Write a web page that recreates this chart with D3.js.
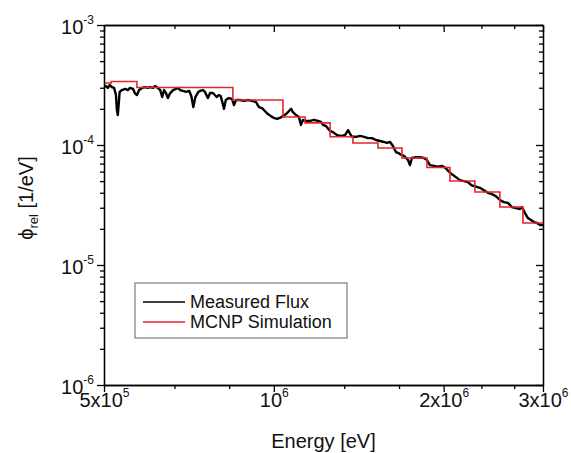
<!DOCTYPE html>
<html>
<head>
<meta charset="utf-8">
<script src="https://cdn.jsdelivr.net/npm/d3@7"></script>
<style>
  body { margin: 0; background: #fff; }
  svg { display: block; font-family: 'Liberation Sans', Arial, sans-serif; }
</style>
</head>
<body>
<svg></svg>
<script>
// Set variables

let width = 571
let height = 453
let plotLeft = 104
let plotRight = 543
let plotTop = 25
let plotBottom = 385

// measured flux: energy in keV, flux in units of 1e-4 1/eV
let measuredEnergy = [500, 504, 508, 512, 516.5, 521, 525, 527, 529, 531,
  533, 538, 545, 551, 556, 563, 567, 572, 577, 584,
  591, 598, 603, 611, 616, 623, 629, 634, 639, 644,
  649, 655, 663, 671, 677, 682, 690, 699, 708, 714,
  720, 726, 735, 740, 749, 755, 764, 771, 780, 786,
  792, 799, 805, 812, 816, 822, 832, 843, 850, 857,
  871, 885, 900, 915, 930, 941, 953, 964, 976, 988,
  1000, 1013, 1025, 1038, 1051, 1064, 1073, 1081, 1094, 1108,
  1117, 1126, 1140, 1159, 1178, 1197, 1212, 1222, 1237, 1258,
  1273, 1294, 1315, 1337, 1354, 1365, 1376, 1399, 1422, 1445,
  1469, 1493, 1517, 1542, 1567, 1586, 1607, 1626, 1647, 1660,
  1680, 1701, 1715, 1729, 1743, 1757, 1786, 1815, 1845, 1868,
  1891, 1922, 1954, 1986, 2018, 2043, 2069, 2103, 2137, 2172,
  2208, 2244, 2281, 2319, 2357, 2396, 2435, 2475, 2516, 2557,
  2599, 2643, 2686, 2731, 2753, 2787, 2821, 2856, 2891, 2927,
  2964, 3000]

let measuredFlux = [3.04, 3.10, 2.99, 3.16, 3.04, 2.99, 2.61, 1.96, 1.78, 2.20,
  2.77, 2.87, 2.93, 2.87, 2.99, 2.93, 2.71, 2.61, 2.87, 2.99,
  3.04, 2.99, 3.04, 2.99, 3.10, 2.99, 2.87, 2.51, 2.87, 2.71,
  2.46, 2.71, 2.87, 2.93, 2.99, 2.87, 2.82, 2.77, 2.82, 2.56,
  2.07, 2.51, 2.77, 2.82, 2.87, 2.77, 2.46, 2.71, 2.71, 2.61,
  2.51, 2.61, 2.56, 2.20, 2.00, 2.37, 2.46, 2.42, 2.15, 2.37,
  2.37, 2.33, 2.37, 2.33, 2.28, 2.07, 2.03, 1.92, 1.81, 1.74,
  1.68, 1.65, 1.68, 1.74, 1.81, 1.92, 2.00, 1.88, 1.78, 1.71,
  1.47, 1.62, 1.59, 1.59, 1.62, 1.59, 1.56, 1.47, 1.44, 1.31,
  1.28, 1.21, 1.19, 1.21, 1.33, 1.24, 1.17, 1.17, 1.19, 1.17,
  1.14, 1.14, 1.10, 1.08, 1.06, 1.04, 1.06, 0.98, 0.87, 0.86,
  0.83, 0.81, 0.78, 0.75, 0.68, 0.78, 0.79, 0.79, 0.78, 0.75,
  0.68, 0.67, 0.66, 0.67, 0.64, 0.60, 0.57, 0.54, 0.51, 0.50,
  0.49, 0.46, 0.45, 0.44, 0.42, 0.40, 0.39, 0.375, 0.348, 0.334,
  0.329, 0.304, 0.298, 0.293, 0.304, 0.271, 0.246, 0.237, 0.228, 0.224,
  0.215, 0.215]

// MCNP histogram: bin edges in keV, bin flux in units of 1e-4 1/eV
let mcnpEdges = [500, 515, 572, 846, 1038, 1136, 1258, 1381, 1530, 1687, 1868, 2052, 2272, 2516, 2764, 3000]
let mcnpFlux = [3.29, 3.38, 3.01, 2.37, 1.71, 1.53, 1.17, 1.04, 0.944, 0.779, 0.649, 0.501, 0.406, 0.304, 0.224]

// ticks
let xTickValues = [5e5, 1e6, 2e6, 3e6]
let xTickLabels = [['5x10', '5'], ['10', '6'], ['2x10', '6'], ['3x10', '6']]
let xMinorValues = [6.667e5, 8.333e5, 1.333e6, 1.667e6, 2.333e6, 2.667e6]
let yTickValues = [1e-6, 1e-5, 1e-4, 1e-3]
let yTickLabels = [['10', '-6'], ['10', '-5'], ['10', '-4'], ['10', '-3']]
let yMinorSteps = [2, 3, 4, 5, 6, 7, 8, 9]
let yMinorValues = [1e-6, 1e-5, 1e-4].flatMap(d => yMinorSteps.map(s => s * d))

let seriesNames = ['Measured Flux', 'MCNP Simulation']
let seriesColors = ['#000000', '#e3262b']

let svg = d3.select('svg')

let xScale
let yScale

// Draw canvas

let drawCanvas = () => {
  svg.attr('width', width)
  svg.attr('height', height)
  svg.append('defs').append('clipPath')
    .attr('id', 'plot-clip')
    .append('rect')
    .attr('x', plotLeft)
    .attr('y', plotTop)
    .attr('width', plotRight - plotLeft)
    .attr('height', plotBottom - plotTop)
}

// Generate scales

let generateScales = () => {
  xScale = d3.scaleLog()
    .domain([5e5, 3e6])
    .range([plotLeft, plotRight])
  yScale = d3.scaleLog()
    .domain([1e-6, 1e-3])
    .range([plotBottom, plotTop])
}

// Draw lines

let drawLines = () => {
  let measured = measuredEnergy.map((e, i) => [e * 1e3, measuredFlux[i] * 1e-4])
  let mcnp = mcnpFlux.map((f, i) => [mcnpEdges[i] * 1e3, f * 1e-4])
  mcnp.push([mcnpEdges[mcnpEdges.length - 1] * 1e3, mcnpFlux[mcnpFlux.length - 1] * 1e-4])

  let line = d3.line()
    .x(d => xScale(d[0]))
    .y(d => yScale(d[1]))

  let g = svg.append('g').attr('clip-path', 'url(#plot-clip)')

  g.append('path')
    .datum(measured)
    .attr('d', line)
    .attr('fill', 'none')
    .attr('stroke', seriesColors[0])
    .attr('stroke-width', 2.4)
    .attr('stroke-linejoin', 'round')

  g.append('path')
    .datum(mcnp)
    .attr('d', line.curve(d3.curveStepAfter))
    .attr('fill', 'none')
    .attr('stroke', seriesColors[1])
    .attr('stroke-width', 1.6)
}

// Generate the axes

let addPowerLabels = (g, labels, x, y) => {
  g.selectAll('.tick text').each(function (d, i) {
    let t = d3.select(this)
    t.text(null)
      .attr('x', x)
      .attr('y', y)
      .attr('dy', null)
      .attr('fill', '#111')
      .attr('font-size', 20)
    t.append('tspan').text(labels[i][0])
    t.append('tspan').attr('dy', -10).attr('font-size', 12).text(labels[i][1])
  })
}

let generateAxes = () => {
  // bottom
  svg.append('g')
    .attr('transform', 'translate(0, ' + plotBottom + ')')
    .call(d3.axisBottom(xScale).tickValues(xMinorValues).tickSize(4).tickSizeOuter(0).tickFormat(''))
  let bottom = svg.append('g')
    .attr('transform', 'translate(0, ' + plotBottom + ')')
    .call(d3.axisBottom(xScale).tickValues(xTickValues).tickSize(7).tickSizeOuter(0))
  addPowerLabels(bottom, xTickLabels, 0, 22)

  // top
  svg.append('g')
    .attr('transform', 'translate(0, ' + plotTop + ')')
    .call(d3.axisTop(xScale).tickValues(xMinorValues).tickSize(-4).tickSizeOuter(0).tickFormat(''))
  svg.append('g')
    .attr('transform', 'translate(0, ' + plotTop + ')')
    .call(d3.axisTop(xScale).tickValues(xTickValues).tickSize(-7).tickSizeOuter(0).tickFormat(''))

  // left
  svg.append('g')
    .attr('transform', 'translate(' + plotLeft + ', 0)')
    .call(d3.axisLeft(yScale).tickValues(yMinorValues).tickSize(4).tickSizeOuter(0).tickFormat(''))
  let left = svg.append('g')
    .attr('transform', 'translate(' + plotLeft + ', 0)')
    .call(d3.axisLeft(yScale).tickValues(yTickValues).tickSize(7).tickSizeOuter(0))
  addPowerLabels(left, yTickLabels, -10, 8)

  // right
  svg.append('g')
    .attr('transform', 'translate(' + plotRight + ', 0)')
    .call(d3.axisRight(yScale).tickValues(yMinorValues).tickSize(-4).tickSizeOuter(0).tickFormat(''))
  svg.append('g')
    .attr('transform', 'translate(' + plotRight + ', 0)')
    .call(d3.axisRight(yScale).tickValues(yTickValues).tickSize(-7).tickSizeOuter(0).tickFormat(''))

  svg.selectAll('.domain, .tick line').attr('stroke', '#000').attr('stroke-width', 1.3)

  // axis titles
  svg.append('text')
    .attr('x', (plotLeft + plotRight) / 2)
    .attr('y', 448)
    .attr('text-anchor', 'middle')
    .attr('font-size', 20)
    .attr('fill', '#111')
    .text('Energy [eV]')

  let yTitle = svg.append('text')
    .attr('transform', 'translate(33, 198) rotate(-90)')
    .attr('text-anchor', 'middle')
    .attr('font-size', 20)
    .attr('fill', '#111')
  yTitle.append('tspan').text('ϕ')
  yTitle.append('tspan').attr('dy', 5).attr('font-size', 13).text('rel')
  yTitle.append('tspan').attr('dy', -5).text(' [1/eV]')
}

// Draw legend

let drawLegend = () => {
  let lg = svg.append('g')
  lg.append('rect')
    .attr('x', 135)
    .attr('y', 283)
    .attr('width', 212)
    .attr('height', 55)
    .attr('fill', '#fff')
    .attr('stroke', '#7a7a7a')
    .attr('stroke-width', 1.2)

  seriesNames.forEach((name, i) => {
    let y = 302 + i * 20
    lg.append('line')
      .attr('x1', 143)
      .attr('x2', 185)
      .attr('y1', y)
      .attr('y2', y)
      .attr('stroke', seriesColors[i])
      .attr('stroke-width', 1.4)
    lg.append('text')
      .attr('x', 190)
      .attr('y', y + 6)
      .attr('font-size', 18)
      .attr('fill', '#111')
      .text(name)
  })
}

drawCanvas()
generateScales()
drawLines()
generateAxes()
drawLegend()
</script>
</body>
</html>
